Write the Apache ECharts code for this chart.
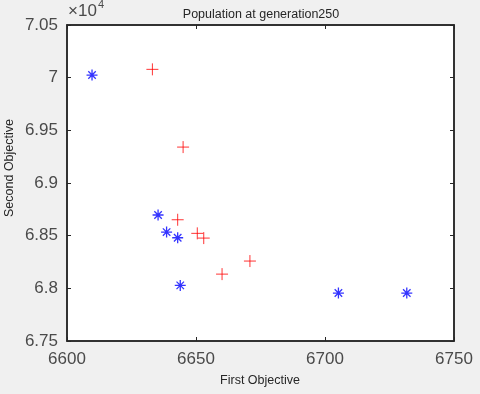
<!DOCTYPE html>
<html>
<head>
<meta charset="utf-8">
<script src="https://cdn.jsdelivr.net/npm/echarts@6/dist/echarts.min.js"></script>
<style>
html,body{margin:0;padding:0;background:#f0f0f0;}
#c{width:480px;height:394px;}
</style>
</head>
<body>
<div id="c"></div>
<script>
const titleText = 'Population at generation250';
const xLabel = 'First Objective';
const yLabel = 'Second Objective';
const xTicks = [6600, 6650, 6700, 6750];
const yTicks = [67500, 68000, 68500, 69000, 69500, 70000, 70500];

const blueX = [6609.7, 6635.3, 6638.6, 6642.9, 6643.9, 6705.2, 6731.7];
const blueY = [70025, 68696, 68534, 68480, 68028, 67955, 67955];
const redX = [6633.1, 6645.0, 6642.9, 6650.5, 6653.0, 6670.9, 6660.1];
const redY = [70079, 69341, 68651, 68522, 68477, 68259, 68135];

const plusPath = 'path://M5,0L5,10M0,5L10,5';
const starPath = 'path://M5,0L5,10M0,5L10,5M1.6,1.6L8.4,8.4M1.6,8.4L8.4,1.6';

const chart = echarts.init(document.getElementById('c'));
const FF = '"Liberation Sans", Arial, sans-serif';
const tickFont = {fontFamily: 'Liberation Sans, Arial, sans-serif', fontSize: 17, color: '#4a4a4a'};
const xMin = xTicks[0], xMax = xTicks[xTicks.length-1];
const yMin = yTicks[0], yMax = yTicks[yTicks.length-1];

chart.setOption({
  backgroundColor: '#f0f0f0',
  animation: false,
  grid: {left: 67, top: 25, right: 26, bottom: 53, show: true, backgroundColor: '#fff', borderColor: '#262626', borderWidth: 1.5},
  xAxis: [{
    type: 'value', min: xMin, max: xMax, interval: 50, position: 'bottom',
    axisLine: {show: true, lineStyle: {color: '#262626', width: 1.5}},
    axisTick: {show: true, inside: true, length: 4, lineStyle: {color: '#262626'}},
    axisLabel: Object.assign({margin: 10, formatter: v => String(v)}, tickFont),
    splitLine: {show: false}
  }, {
    type: 'value', min: xMin, max: xMax, interval: 50, position: 'top',
    axisLine: {show: true, lineStyle: {color: '#262626', width: 1.5}},
    axisTick: {show: true, inside: true, length: 4, lineStyle: {color: '#262626'}},
    axisLabel: {show: false}, splitLine: {show: false}
  }],
  yAxis: [{
    type: 'value', min: yMin, max: yMax, interval: 500, position: 'left',
    axisLine: {show: true, lineStyle: {color: '#262626', width: 1.5}},
    axisTick: {show: true, inside: true, length: 4, lineStyle: {color: '#262626'}},
    axisLabel: Object.assign({margin: 9, formatter: v => String(+(v/10000).toFixed(2))}, tickFont),
    splitLine: {show: false}
  }, {
    type: 'value', min: yMin, max: yMax, interval: 500, position: 'right',
    axisLine: {show: true, lineStyle: {color: '#262626', width: 1.5}},
    axisTick: {show: true, inside: true, length: 4, lineStyle: {color: '#262626'}},
    axisLabel: {show: false}, splitLine: {show: false}
  }],
  graphic: [
    {type: 'text', x: 261, y: 15, style: {text: titleText, font: '12.5px ' + FF, fill: '#262626', align: 'center', verticalAlign: 'middle'}},
    {type: 'text', x: 68, y: 11, style: {text: '×10', font: '17px ' + FF, fill: '#4a4a4a', align: 'left', verticalAlign: 'middle'}},
    {type: 'text', x: 98, y: 5, style: {text: '4', font: '11px ' + FF, fill: '#4a4a4a', align: 'left', verticalAlign: 'middle'}},
    {type: 'text', x: 260, y: 381, style: {text: xLabel, font: '12.5px ' + FF, fill: '#262626', align: 'center', verticalAlign: 'middle'}},
    {type: 'text', x: 10, y: 168, rotation: Math.PI/2, style: {text: yLabel, font: '12.5px ' + FF, fill: '#262626', align: 'center', verticalAlign: 'middle'}}
  ],
  series: [{
    type: 'scatter', name: 'blue',
    data: blueX.map((x, i) => [x, blueY[i]]),
    symbol: starPath, symbolSize: 11,
    itemStyle: {color: 'none', borderColor: '#0000ff', borderWidth: 1.3}
  }, {
    type: 'scatter', name: 'red',
    data: redX.map((x, i) => [x, redY[i]]),
    symbol: plusPath, symbolSize: 12,
    itemStyle: {color: 'none', borderColor: '#ff0000', borderWidth: 1}
  }]
});
</script>
</body>
</html>
